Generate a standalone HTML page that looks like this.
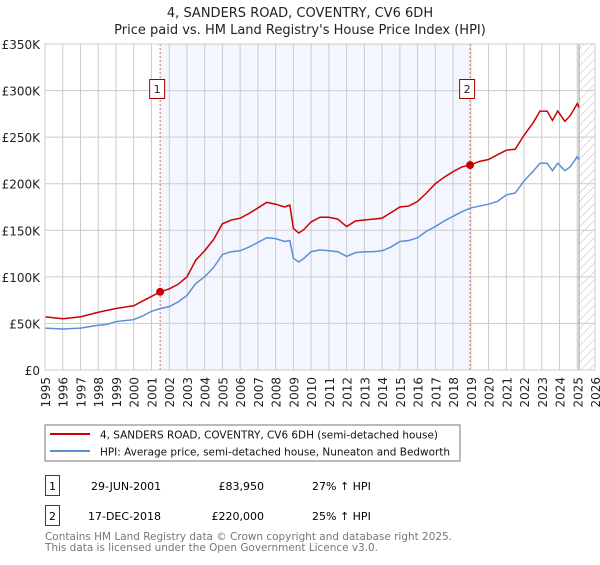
<!DOCTYPE html>
<html><head><meta charset="utf-8"><style>
body{margin:0;background:#fff;font-family:"Liberation Sans","DejaVu Sans",sans-serif;}
svg text{font-family:"DejaVu Sans","Liberation Sans",sans-serif;}
</style></head><body>
<svg id="chart" width="600" height="560" xmlns="http://www.w3.org/2000/svg">
<defs><pattern id="hatch" width="6" height="6" patternUnits="userSpaceOnUse" patternTransform="rotate(45)"><line x1="0" y1="0" x2="0" y2="6" stroke="#bbb" stroke-width="1"/></pattern></defs>
<text x="300" y="17" text-anchor="middle" font-size="13" fill="#222">4, SANDERS ROAD, COVENTRY, CV6 6DH</text>
<text x="300" y="34" text-anchor="middle" font-size="13" fill="#222">Price paid vs. HM Land Registry's House Price Index (HPI)</text>
<g id="plot"></g>
<rect x="45" y="425" width="415" height="36" fill="#fff" stroke="#777"/>
<line x1="50" y1="434" x2="90" y2="434" stroke="#cc0000" stroke-width="2"/>
<text x="100" y="438.5" font-size="11" fill="#111" textLength="338" lengthAdjust="spacingAndGlyphs">4, SANDERS ROAD, COVENTRY, CV6 6DH (semi-detached house)</text>
<line x1="50" y1="451" x2="90" y2="451" stroke="#5b8fd6" stroke-width="2"/>
<text x="100" y="455.5" font-size="11" fill="#111" textLength="350" lengthAdjust="spacingAndGlyphs">HPI: Average price, semi-detached house, Nuneaton and Bedworth</text>
<g>
<rect x="45.5" y="475.5" width="14" height="20" fill="none" stroke="#cc0000"/>
<text x="52.5" y="490" text-anchor="middle" font-size="11">1</text>
<text x="91" y="490" font-size="11">29-JUN-2001</text>
<text x="264" y="490" text-anchor="end" font-size="11">£83,950</text>
<text x="312" y="490" font-size="11">27% ↑ HPI</text></g>
<g>
<rect x="45.5" y="505.5" width="14" height="20" fill="none" stroke="#cc0000"/>
<text x="52.5" y="520" text-anchor="middle" font-size="11">2</text>
<text x="88" y="520" font-size="11">17-DEC-2018</text>
<text x="264" y="520" text-anchor="end" font-size="11">£220,000</text>
<text x="312" y="520" font-size="11">25% ↑ HPI</text></g>
<text x="45" y="540" font-size="11" fill="#777" textLength="407" lengthAdjust="spacingAndGlyphs">Contains HM Land Registry data © Crown copyright and database right 2025.</text>
<text x="45" y="551" font-size="11" fill="#777" textLength="333" lengthAdjust="spacingAndGlyphs">This data is licensed under the Open Government Licence v3.0.</text>
</svg>
<script>
const hpiYears=[1995,1996,1997,1998,1998.5,1999,2000,2000.5,2001,2001.5,2002,2002.5,2003,2003.5,2004,2004.5,2005,2005.5,2006,2006.5,2007,2007.5,2008,2008.5,2008.8,2009,2009.3,2009.6,2010,2010.5,2011,2011.5,2012,2012.5,2013,2013.5,2014,2014.5,2015,2015.5,2016,2016.5,2017,2017.5,2018,2018.5,2019,2019.5,2020,2020.5,2021,2021.5,2022,2022.5,2022.9,2023.3,2023.6,2023.9,2024.3,2024.6,2025,2025.1];
const hpiValues=[45,44,45,48,49,52,54,58,63,66,68,73,80,93,100,110,124,127,128,132,137,142,141,138,139,120,116,120,127,129,128,127,122,126,127,127,128,132,138,139,142,149,154,160,165,170,174,176,178,181,188,190,203,213,222,222,214,222,214,218,229,226];
const priceYears=[1995,1996,1997,1998,1999,2000,2000.5,2001,2001.49,2002,2002.5,2003,2003.5,2004,2004.5,2005,2005.5,2006,2006.5,2007,2007.5,2008,2008.5,2008.8,2009,2009.3,2009.6,2010,2010.5,2011,2011.5,2012,2012.5,2013,2013.5,2014,2014.5,2015,2015.5,2016,2016.5,2017,2017.5,2018,2018.5,2018.96,2019.5,2020,2020.5,2021,2021.5,2022,2022.5,2022.9,2023.3,2023.6,2023.9,2024.3,2024.6,2025,2025.1];
const priceValues=[57,55,57,62,66,69,74,79,84,87,92,100,118,128,140,157,161,163,168,174,180,178,175,177,152,147,151,159,164,164,162,154,160,161,162,163,169,175,176,181,190,200,207,213,218,220,224,226,231,236,237,252,265,278,278,268,278,267,273,286,282];
const saleYears=[2001.49,2018.96];
const saleValues=[83.95,220];
const saleLabels=["1","2"];
const yTicks=[0,50,100,150,200,250,300,350];
const yTickLabels=["£0","£50K","£100K","£150K","£200K","£250K","£300K","£350K"];
const xTicks=[1995,1996,1997,1998,1999,2000,2001,2002,2003,2004,2005,2006,2007,2008,2009,2010,2011,2012,2013,2014,2015,2016,2017,2018,2019,2020,2021,2022,2023,2024,2025,2026];

const L=45,R=595,T=44,B=370,x0=1995,x1=2026,yMax=350;
const X=v=>L+(v-x0)/(x1-x0)*(R-L);
const Y=v=>B-v/yMax*(B-T);
const NS="http://www.w3.org/2000/svg";
const g=document.getElementById('plot');
function mk(t,a){const e=document.createElementNS(NS,t);for(const k in a)e.setAttribute(k,a[k]);g.appendChild(e);return e;}
let e;
e=mk('rect',{x:X(saleYears[0]),y:T,width:X(saleYears[1])-X(saleYears[0]),height:B-T,fill:'#f3f6fe'});


e=mk('rect',{x:X(2025.1),y:T,width:R-X(2025.1),height:B-T,fill:'url(#hatch)'});


xTicks.forEach(v=>{
 e=mk('line',{x1:X(v),x2:X(v),y1:T,y2:B,stroke:'#ccc','stroke-width':1});
 
 
 e=mk('text',{x:0,y:0,transform:`translate(${X(v)+5},${377}) rotate(-90)`,'text-anchor':'end','font-size':'12',fill:'#222'});
 e.textContent=v;
 
 
});
yTicks.forEach((v,i)=>{
 e=mk('line',{x1:L,x2:R,y1:Y(v),y2:Y(v),stroke:'#ccc','stroke-width':1});
 
 
 e=mk('text',{x:40,y:Y(v)+5,'text-anchor':'end','font-size':'12',fill:'#222'});
 e.textContent=yTickLabels[i];
 
 
});
e=mk('line',{x1:X(2025.1),x2:X(2025.1),y1:T,y2:B,stroke:'#999','stroke-width':1});


saleYears.forEach((v,i)=>{
 e=mk('line',{x1:X(v),x2:X(v),y1:T,y2:B,stroke:'#e06666','stroke-width':1,'stroke-dasharray':'2,2'});
 
 
});
e=mk('polyline',{points:hpiYears.map((v,i)=>X(v)+','+Y(hpiValues[i])).join(' '),fill:'none',stroke:'#5b8fd6','stroke-width':1.5});


e=mk('polyline',{points:priceYears.map((v,i)=>X(v)+','+Y(priceValues[i])).join(' '),fill:'none',stroke:'#cc0000','stroke-width':1.5});


saleYears.forEach((v,i)=>{
 e=mk('circle',{cx:X(v),cy:Y(saleValues[i]),r:4,fill:'#cc0000'});
 
 
 e=mk('rect',{x:X(v)-10.5,y:79.5,width:15,height:19,fill:'#fff',stroke:'#aa0000'});
 
 
 e=mk('text',{x:X(v)-3,y:93,'text-anchor':'middle','font-size':'11',fill:'#222'});
 e.textContent=saleLabels[i];
 
 
});
e=mk('rect',{x:L,y:T,width:R-L,height:B-T,fill:'none',stroke:'#ccc'});


</script>
</body></html>
